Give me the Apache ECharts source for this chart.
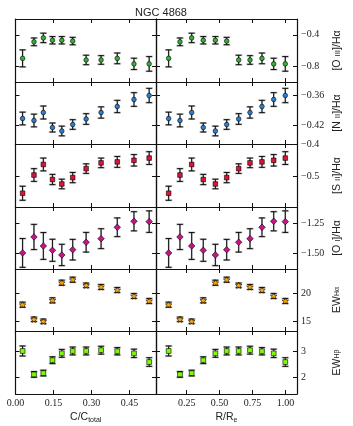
<!DOCTYPE html>
<html>
<head>
<meta charset="utf-8">
<script src="https://cdn.jsdelivr.net/npm/echarts@6/dist/echarts.min.js"></script>
<style>
html, body { margin: 0; padding: 0; background: #fff; }
#chart { width: 353px; height: 426px; }
</style>
</head>
<body>
<div id="chart"></div>
<script>
// x positions of the 11 bins
var cFrac = [0.028, 0.073, 0.110, 0.146, 0.183, 0.226, 0.279, 0.338, 0.402, 0.468, 0.528];
var rRe = [0.113, 0.199, 0.288, 0.376, 0.468, 0.554, 0.645, 0.731, 0.822, 0.911, 0.999];

// line ratios and equivalent widths, with errors
var oiii = [-0.70, -0.49, -0.44, -0.47, -0.47, -0.48, -0.72, -0.72, -0.70, -0.77, -0.77];
var oiiiErr = [0.108, 0.049, 0.06, 0.047, 0.047, 0.047, 0.06, 0.055, 0.068, 0.072, 0.093];
var nii = [-0.407, -0.411, -0.395, -0.425, -0.432, -0.419, -0.408, -0.395, -0.383, -0.369, -0.361];
var niiErr = [0.0127, 0.0127, 0.013, 0.009, 0.0097, 0.0097, 0.0107, 0.0113, 0.0123, 0.0137, 0.0143];
var sii = [-0.552, -0.495, -0.462, -0.509, -0.523, -0.503, -0.475, -0.457, -0.454, -0.449, -0.442];
var siiErr = [0.022, 0.02, 0.02, 0.016, 0.015, 0.016, 0.015, 0.015, 0.017, 0.018, 0.02];
var oi = [-1.494, -1.361, -1.436, -1.472, -1.511, -1.467, -1.405, -1.375, -1.28, -1.23, -1.233];
var oiErr = [0.12, 0.105, 0.112, 0.092, 0.089, 0.086, 0.082, 0.083, 0.078, 0.08, 0.09];
var ewHa = [18.04, 15.43, 15.07, 18.82, 21.96, 22.5, 21.5, 21.2, 20.66, 19.59, 18.7];
var ewHaErr = [0.45, 0.4, 0.4, 0.45, 0.45, 0.45, 0.4, 0.45, 0.45, 0.45, 0.45];
var ewHb = [3.0, 2.11, 2.16, 2.65, 2.91, 3.0, 3.0, 3.03, 2.99, 2.91, 2.58];
var ewHbErr = [0.19, 0.11, 0.11, 0.13, 0.15, 0.15, 0.15, 0.15, 0.14, 0.16, 0.165];

// tick values and labels
var cTicks = [0, 0.15, 0.30, 0.45];
var cTickLabels = ['0.00', '0.15', '0.30', '0.45'];
var rTicks = [0.25, 0.50, 0.75, 1.00];
var rTickLabels = ['0.25', '0.50', '0.75', '1.00'];

var rows = [
    {y: oiii, err: oiiiErr, min: -1.0, max: -0.2, ticks: [-0.8, -0.4], labels: ['−0.8', '−0.4'],
     name: '[O {sc|III}]/Hα', symbol: 'circle', size: 4.6, color: '#33b233'},
    {y: nii, err: niiErr, min: -0.458, max: -0.334, ticks: [-0.42, -0.36], labels: ['−0.42', '−0.36'],
     name: '[N {sc|II}]/Hα', symbol: 'circle', size: 4.6, color: '#2a7fd6'},
    {y: sii, err: siiErr, min: -0.595, max: -0.398, ticks: [-0.5, -0.4], labels: ['−0.5', '−0.4'],
     name: '[S {sc|II}]/Hα', symbol: 'rect', size: 4.6, color: '#dc143c'},
    {y: oi, err: oiErr, min: -1.628, max: -1.111, ticks: [-1.5, -1.25], labels: ['−1.50', '−1.25'],
     name: '[O {sc|I}]/Hα', symbol: 'diamond', size: 6.5, color: '#c71585'},
    {y: ewHa, err: ewHaErr, min: 13.34, max: 24.41, ticks: [15, 20], labels: ['15', '20'],
     name: 'EW{s|Hα}', symbol: 'path://M0,-10L2.9,-4L9.5,-3.1L4.7,1.5L5.9,8.1L0,5L-5.9,8.1L-4.7,1.5L-9.5,-3.1L-2.9,-4Z', size: 6.5, color: '#ffa500'},
    {y: ewHb, err: ewHbErr, min: 1.365, max: 3.76, ticks: [2, 3], labels: ['2', '3'],
     name: 'EW{s|Hβ}', symbol: 'rect', size: 4.8, color: '#7cfc00'}
];

var rowTops = [19, 82, 144, 207, 269, 331, 394];
var panels = [
    {x: cFrac, left: 15.5, width: 140.5, min: 0, max: 0.555, ticks: cTicks, labels: cTickLabels, name: 'C/C{s|total}'},
    {x: rRe, left: 156, width: 141, min: 0.017, max: 1.088, ticks: rTicks, labels: rTickLabels, name: 'R/R{s|e}'}
];

var serif = 'Liberation Serif';
var sans = 'Liberation Sans';
var lineCol = '#111';

function labelFor(ticks, labels) {
    return function (v) {
        for (var i = 0; i < ticks.length; i++) {
            if (Math.abs(ticks[i] - v) < 1e-6) return labels[i];
        }
        return '';
    };
}

function errRender(params, api) {
    var x = api.value(0);
    var top = api.coord([x, api.value(2)]);
    var bot = api.coord([x, api.value(1)]);
    var cx = top[0];
    return {
        type: 'group',
        children: [
            {type: 'line', shape: {x1: cx, y1: top[1], x2: cx, y2: bot[1]}, style: {stroke: '#aaa', lineWidth: 1.6}},
            {type: 'line', shape: {x1: cx - 3.6, y1: top[1], x2: cx + 3.6, y2: top[1]}, style: {stroke: '#aaa', lineWidth: 1.8}},
            {type: 'line', shape: {x1: cx - 3.6, y1: bot[1], x2: cx + 3.6, y2: bot[1]}, style: {stroke: '#aaa', lineWidth: 1.8}},
            {type: 'line', shape: {x1: cx, y1: top[1], x2: cx, y2: bot[1]}, style: {stroke: '#000', lineWidth: 0.9}},
            {type: 'line', shape: {x1: cx - 2.8, y1: top[1], x2: cx + 2.8, y2: top[1]}, style: {stroke: '#000', lineWidth: 0.9}},
            {type: 'line', shape: {x1: cx - 2.8, y1: bot[1], x2: cx + 2.8, y2: bot[1]}, style: {stroke: '#000', lineWidth: 0.9}}
        ]
    };
}

var grids = [], xAxes = [], yAxes = [], series = [];

rows.forEach(function (row, ri) {
    panels.forEach(function (pan, pi) {
        var g = grids.length;
        var last = ri === rows.length - 1;
        grids.push({left: pan.left, width: pan.width, top: rowTops[ri], height: rowTops[ri + 1] - rowTops[ri]});

        ['bottom', 'top'].forEach(function (pos) {
            var showLab = pos === 'bottom' && last;
            xAxes.push({
                type: 'value', gridIndex: g, position: pos, min: pan.min, max: pan.max,
                axisLine: {show: true, onZero: false, lineStyle: {color: lineCol, width: 1.2}},
                axisTick: {show: true, inside: true, length: 4, customValues: pan.ticks, lineStyle: {color: lineCol}},
                axisLabel: {show: showLab, customValues: pan.ticks, formatter: labelFor(pan.ticks, pan.labels),
                    fontFamily: serif, fontSize: 10, color: '#222', margin: 4},
                splitLine: {show: false},
                name: showLab ? pan.name : '', nameLocation: 'middle', nameGap: 17,
                nameTextStyle: {fontFamily: sans, fontSize: 10.5, color: '#222', rich: {s: {fontSize: 7, fontFamily: sans, verticalAlign: 'bottom', padding: [6, 0, 0, 0]}}}
            });
        });

        ['left', 'right'].forEach(function (pos) {
            var showLab = pos === 'right' && pi === 1;
            yAxes.push({
                type: 'value', gridIndex: g, position: pos, min: row.min, max: row.max,
                axisLine: {show: true, onZero: false, lineStyle: {color: lineCol, width: 1.2}},
                axisTick: {show: true, inside: true, length: 4, customValues: row.ticks, lineStyle: {color: lineCol}},
                axisLabel: {show: showLab, customValues: row.ticks, formatter: labelFor(row.ticks, row.labels),
                    fontFamily: serif, fontSize: 10, color: '#222', margin: 4},
                splitLine: {show: false},
                name: showLab ? row.name : '', nameLocation: 'middle', nameGap: 35, nameRotate: 90,
                nameTextStyle: {fontFamily: sans, fontSize: 10.5, color: '#222',
                    rich: {sc: {fontSize: 8, fontFamily: sans}, s: {fontSize: 7, fontFamily: sans}}}
            });
        });

        var errData = pan.x.map(function (x, i) { return [x, row.y[i] - row.err[i], row.y[i] + row.err[i]]; });
        var ptData = pan.x.map(function (x, i) { return [x, row.y[i]]; });

        series.push({
            type: 'custom', xAxisIndex: 2 * g, yAxisIndex: 2 * g,
            renderItem: errRender, data: errData, encode: {x: 0, y: [1, 2]}, z: 2, silent: true
        });
        series.push({
            type: 'scatter', xAxisIndex: 2 * g, yAxisIndex: 2 * g,
            data: ptData, symbol: row.symbol, symbolSize: row.size, symbolKeepAspect: true,
            itemStyle: {color: row.color, borderColor: '#000', borderWidth: 0.6, opacity: 1},
            z: 3, silent: true
        });
    });
});

var chart = echarts.init(document.getElementById('chart'));
chart.setOption({
    animation: false,
    backgroundColor: '#fff',
    title: {
        text: 'NGC 4868', left: 156, top: 2, textAlign: 'center',
        textStyle: {fontFamily: sans, fontSize: 11, fontWeight: 'normal', color: '#222'}
    },
    grid: grids,
    xAxis: xAxes,
    yAxis: yAxes,
    series: series
});
</script>
</body>
</html>
